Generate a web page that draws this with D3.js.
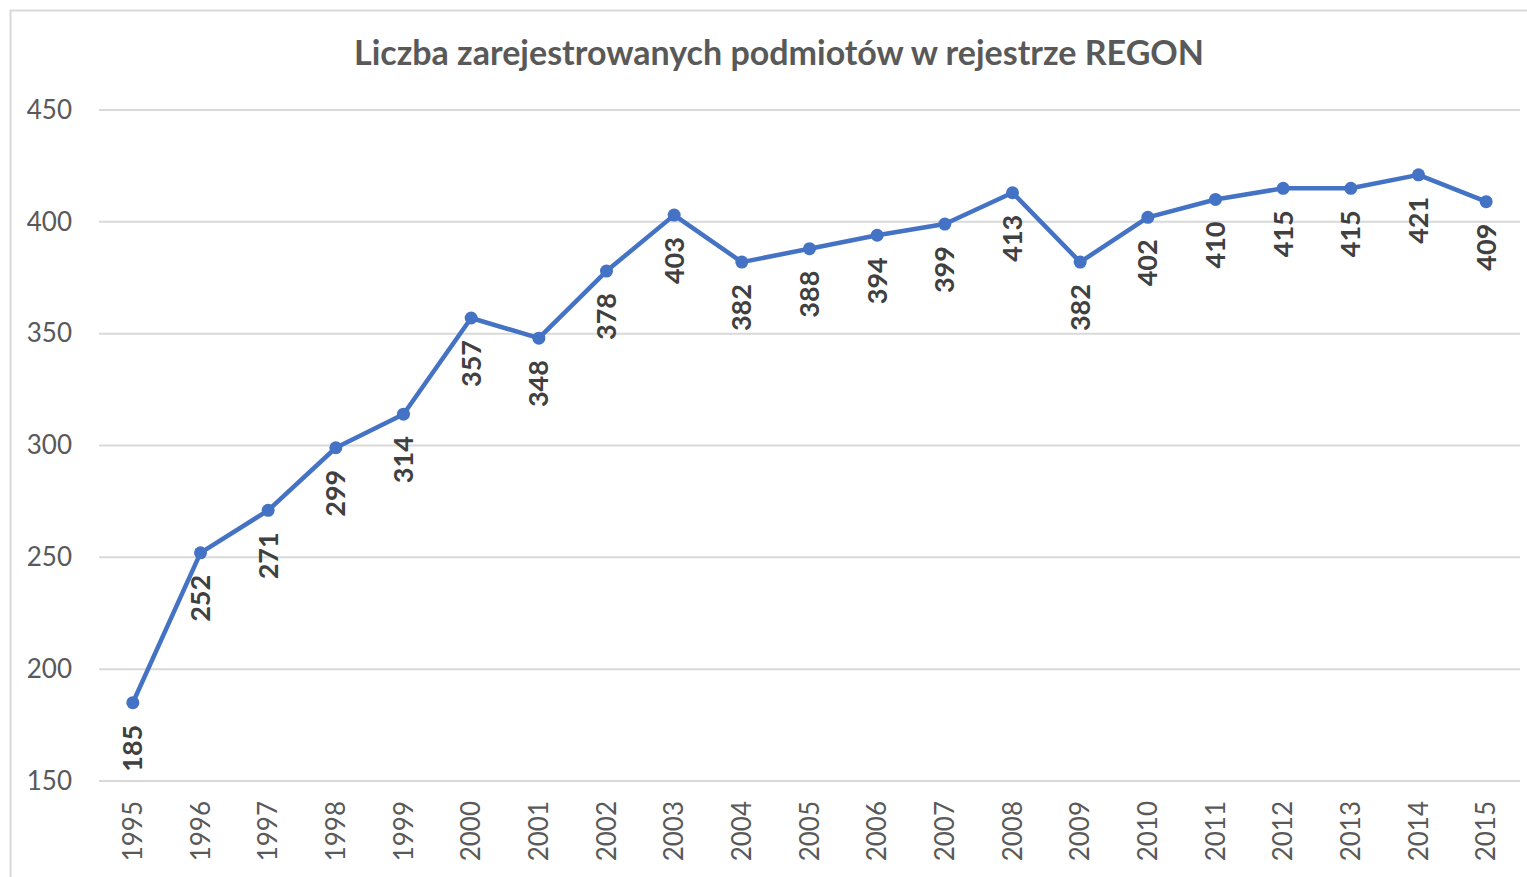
<!DOCTYPE html>
<html>
<head>
<meta charset="utf-8">
<script src="https://cdn.jsdelivr.net/npm/d3@7"></script>
<style>
  body { margin: 0; background: #fff; }
  svg { display: block; font-family: Lato, "Open Sans", sans-serif; }
</style>
</head>
<body>
<div id="chart"></div>
<script>
const years = ["1995","1996","1997","1998","1999","2000","2001","2002","2003","2004","2005",
  "2006","2007","2008","2009","2010","2011","2012","2013","2014","2015"];
const values = [185, 252, 271, 299, 314, 357, 348, 378, 403, 382, 388,
  394, 399, 413, 382, 402, 410, 415, 415, 421, 409];
const yTicks = [150, 200, 250, 300, 350, 400, 450];
const title = "Liczba zarejestrowanych podmiotów w rejestrze REGON";

const width = 1527, height = 877;
const margin = { left: 99, right: 7, top: 110, bottom: 96 };

const svg = d3.select("#chart").append("svg")
  .attr("width", width)
  .attr("height", height);

// chart frame (right and bottom sides are cut off in the picture)
svg.append("rect")
  .attr("x", 10.5).attr("y", 10.5)
  .attr("width", width + 20).attr("height", height + 20)
  .attr("fill", "white")
  .attr("stroke", "#d9d9d9")
  .attr("stroke-width", 2);

svg.append("text")
  .attr("x", 779).attr("y", 65)
  .attr("text-anchor", "middle")
  .attr("font-size", 34)
  .attr("font-weight", "bold")
  .attr("fill", "#595959")
  .text(title);

const x = d3.scaleBand()
  .domain(years)
  .range([margin.left, width - margin.right]);

const y = d3.scaleLinear()
  .domain([150, 450])
  .range([height - margin.bottom, margin.top]);

// gridlines
svg.append("g")
  .selectAll("line")
  .data(yTicks)
  .join("line")
  .attr("x1", margin.left).attr("x2", width - margin.right)
  .attr("y1", d => y(d)).attr("y2", d => y(d))
  .attr("stroke", "#d9d9d9")
  .attr("stroke-width", 2);

// y axis labels
const yAxis = svg.append("g")
  .attr("transform", `translate(${margin.left},0)`)
  .call(d3.axisLeft(y).tickValues(yTicks).tickSize(0).tickPadding(27))
  .attr("font-family", null)
  .attr("font-size", 26);
yAxis.select(".domain").remove();
yAxis.selectAll("text")
  .attr("fill", "#595959");

// x axis labels
const xAxis = svg.append("g")
  .attr("transform", `translate(0,${height - margin.bottom})`)
  .call(d3.axisBottom(x).tickSize(0).tickPadding(0))
  .attr("font-family", null)
  .attr("font-size", 26);
xAxis.select(".domain").remove();
xAxis.selectAll("text")
  .attr("fill", "#595959")
  .attr("text-anchor", "end")
  .attr("dy", "0.35em")
  .attr("transform", "translate(0,20) rotate(-90)")
  .attr("x", 0).attr("y", 0);

const cx = d => x(d) + x.bandwidth() / 2;
const data = years.map((yr, i) => ({ yr, v: values[i] }));

svg.append("path")
  .datum(data)
  .attr("fill", "none")
  .attr("stroke", "#4472c4")
  .attr("stroke-width", 4.5)
  .attr("stroke-linejoin", "round")
  .attr("d", d3.line().x(d => cx(d.yr)).y(d => y(d.v)));

svg.append("g")
  .selectAll("circle")
  .data(data)
  .join("circle")
  .attr("cx", d => cx(d.yr))
  .attr("cy", d => y(d.v))
  .attr("r", 6.5)
  .attr("fill", "#4472c4");

// data labels, rotated, below each point
svg.append("g")
  .selectAll("text")
  .data(data)
  .join("text")
  .attr("transform", d => `translate(${cx(d.yr)},${y(d.v) + 22}) rotate(-90)`)
  .attr("text-anchor", "end")
  .attr("dy", "0.35em")
  .attr("font-size", 27)
  .attr("font-weight", "bold")
  .attr("fill", "#404040")
  .text(d => d.v);
</script>
</body>
</html>
